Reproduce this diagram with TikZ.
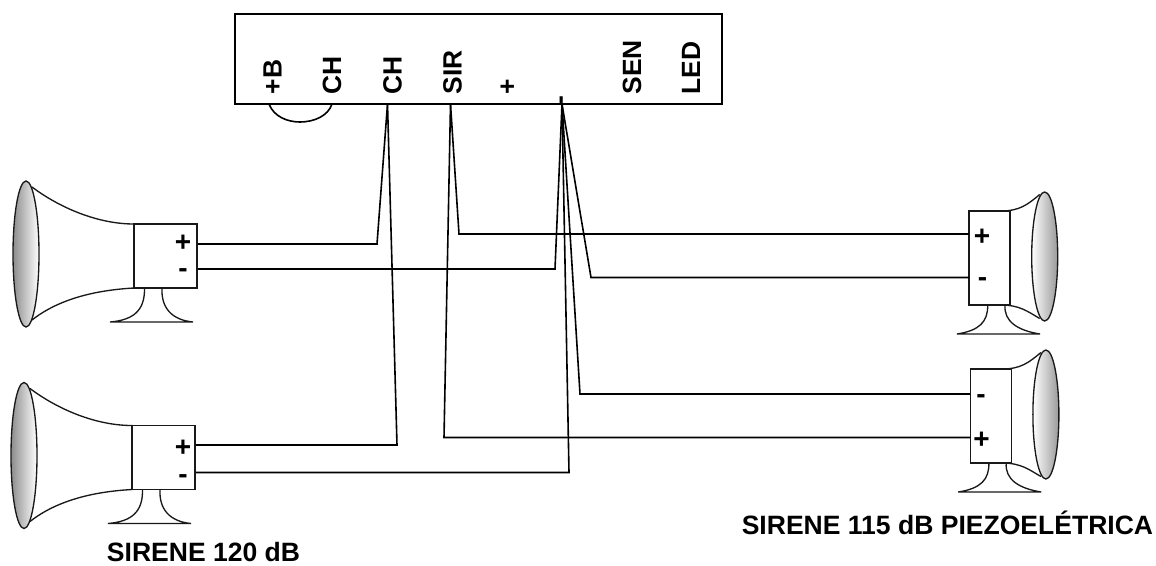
\documentclass[tikz,border=0pt]{standalone}
\usepackage{fontspec}
\setmainfont{Liberation Sans}
\usetikzlibrary{positioning}
\tikzstyle{panel} = [rectangle, draw=black, line width=1.2pt, minimum width=365.25pt, minimum height=67.5pt, inner sep=0pt]
\tikzstyle{term} = [rotate=90, anchor=base west, inner sep=0pt, font=\fontsize{19.8}{20}\selectfont\bfseries]
\tikzstyle{pol} = [inner sep=0pt, font=\fontsize{21}{21}\selectfont\bfseries]
\tikzstyle{caption} = [anchor=base west, inner sep=0pt, font=\fontsize{19.9}{20}\selectfont\bfseries]
\tikzstyle{wire} = [line width=1.2pt, line join=miter]
\tikzstyle{body} = [line width=1pt, draw=black!90]
\tikzset{
  hornbig/.pic={
    \draw[body, fill=white] (6,-67) .. controls (34,-46) and (72,-30) .. (108,-30) -- (108,34) .. controls (72,36) and (34,44) .. (6,66);
    \draw[body, left color=black!45, right color=white] (0,0) ellipse (13 and 73);
    \draw[body] (108,-30) rectangle (171,34);
    \draw[body] (118.5,34) .. controls (119,56) and (108,66) .. (84,68) -- (167,68) .. controls (146,66) and (135,54) .. (136,34);
  },
  hornsmall/.pic={
    \draw[body] (-44,-45.5) .. controls (-25,-45.5) and (-17,-52) .. (-5,-62);
    \draw[body] (-44,48.5) .. controls (-25,48.5) and (-17,55) .. (-5,62);
    \draw[body, left color=white, right color=black!40] (0,0) ellipse (13 and 64.5);
    \draw[body] (-75.7,-45.5) rectangle (-34.7,48.5);
    \draw[body] (-57,48.5) .. controls (-56.7,65) and (-65,74) .. (-87.7,77.5) -- (-4.7,77.5) .. controls (-27,74) and (-41,65) .. (-39.7,48.5);
  }
}
\begin{document}
\begin{tikzpicture}[x=0.75pt, y=-0.75pt]
\useasboundingbox (0,0) rectangle (1156,565);

\node (board) [panel] at (478.5,59) {};
\node (lblB) [term] at (281.5,94.5) {+B};
\node (lblCHa) [term] at (341,94.5) {CH};
\node (lblCHb) [term] at (401.5,94.5) {CH};
\node (lblSIR) [term] at (461.5,94.5) {SIR};
\node (lblplus) [term] at (516,94.5) {+};
\node (lblminus) [term] at (568,104.5) {-};
\node (lblSEN) [term] at (641,94.5) {SEN};
\node (lblLED) [term] at (700,94.5) {LED};

\coordinate (pinB) at (269,104);
\coordinate (pinCHa) at (332,104);
\coordinate (pinCHb) at (387.5,104);
\coordinate (pinSIR) at (450.5,104);
\coordinate (pinminus) at (562,104);

\pic (hornA) at (26,254) {hornbig};
\pic (hornB) at (24,455.5) {hornbig};
\pic (piezoA) at (1044.7,256.5) {hornsmall};
\pic (piezoB) at (1045.9,414.5) {hornsmall};

\coordinate (hornAplus) at (198,244);
\coordinate (hornAminus) at (198,269);
\coordinate (hornBplus) at (196,445);
\coordinate (hornBminus) at (196,472.5);
\coordinate (piezoAplus) at (969,234);
\coordinate (piezoAminus) at (969,277.5);
\coordinate (piezoBminus) at (970,394);
\coordinate (piezoBplus) at (970,437.5);

\node (plusA) [pol] at (183,243.5) {+};
\node (minusA) [pol] at (183,273.5) {-};
\node (plusB) [pol] at (183,448.5) {+};
\node (minusB) [pol] at (183,479.5) {-};
\node (plusC) [pol] at (982,237.5) {+};
\node (minusC) [pol] at (982.5,282.5) {-};
\node (minusD) [pol] at (981,399.5) {-};
\node (plusD) [pol] at (981.5,440.5) {+};

\draw [wire] (pinB) .. controls (274,117) and (288,122) .. (300,122) .. controls (314,122) and (328,116) .. (pinCHa);
\draw [wire] (hornAplus) -- +(179,0) -- (pinCHb);
\draw [wire] (hornAminus) -- +(357,0) -- (pinminus);
\draw [wire] (hornBplus) -- +(201,0) -- (pinCHb);
\draw [wire] (hornBminus) -- +(373,0) -- (pinminus);
\draw [wire] (piezoAplus) -- +(-510,0) -- (pinSIR);
\draw [wire] (piezoAminus) -- +(-378,0) -- (pinminus);
\draw [wire] (piezoBminus) -- +(-390,0) -- (pinminus);
\draw [wire] (piezoBplus) -- +(-526,0) -- (pinSIR);

\node (capA) [caption] at (106.7,561.5) {SIRENE 120 dB};
\node (capB) [caption] at (741.5,534) {SIRENE 115 dB PIEZOELÉTRICA};

\end{tikzpicture}
\end{document}
